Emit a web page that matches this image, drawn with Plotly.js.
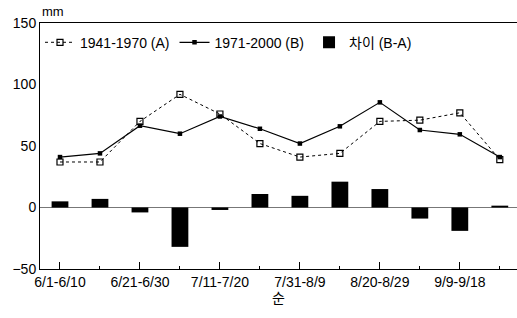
<!DOCTYPE html>
<html><head><meta charset="utf-8">
<script src="https://cdn.plot.ly/plotly-3.0.1.min.js"></script>
<style>html,body{margin:0;padding:0;background:#fff}</style>
</head><body>
<div id="chart" style="width:517px;height:318px"></div>
<script>
const categories = ["6/1-6/10","6/11-6/20","6/21-6/30","7/1-7/10","7/11-7/20","7/21-7/30","7/31-8/9","8/10-8/19","8/20-8/29","8/30-9/8","9/9-9/18","9/19-9/28"];
const seriesA = [37, 37, 70, 92, 76, 52, 41, 44, 70, 71, 77, 39];
const seriesB = [41, 44, 66.5, 60, 74, 64, 52, 66, 85.5, 63, 59.5, 41];
const diffBA = [5, 7, -4, -32, -2, 11, 9.5, 21, 15, -9, -19, 1.5];
const nameA = "1941-1970 (A)";
const nameB = "1971-2000 (B)";
const nameD = "차이 (B-A)";
const yTicks = [-50, 0, 50, 100, 150];

const idx = categories.map((_, i) => i);
const labeledIdx = idx.filter(i => i % 2 === 0);
const FONT = "Arial, 'Liberation Sans', 'Noto Sans CJK KR', sans-serif";

const traces = [
  {x: idx, y: seriesA, name: nameA, type: "scatter", mode: "lines+markers",
   line: {color: "#000", width: 1, dash: "dot"},
   marker: {symbol: "square-open", size: 6, color: "#000", line: {width: 1.2, color: "#000"}}},
  {x: idx, y: seriesB, name: nameB, type: "scatter", mode: "lines+markers",
   line: {color: "#000", width: 1.2},
   marker: {symbol: "square", size: 4.5, color: "#000"}},
  {x: idx, y: diffBA, name: nameD, type: "bar", width: 0.42,
   marker: {color: "#000"}}
];

const layout = {
  width: 517, height: 318,
  margin: {l: 40, r: 0, t: 23, b: 49},
  paper_bgcolor: "#fff", plot_bgcolor: "#fff",
  font: {family: FONT, size: 14, color: "#000"},
  showlegend: true,
  legend: {orientation: "h", x: 0, y: 0.985, xanchor: "left", yanchor: "top",
           font: {size: 14}, itemwidth: 30,
           bgcolor: "rgba(0,0,0,0)", traceorder: "normal", tracegroupgap: 0},
  xaxis: {
    range: [-0.5, 11.43],
    tickvals: labeledIdx,
    ticktext: labeledIdx.map(i => categories[i]),
    ticks: "inside", ticklen: 7, tickcolor: "#000", tickwidth: 1,
    minor: {tickvals: idx, ticks: "inside", ticklen: 3, tickcolor: "#000"},
    showline: true, linecolor: "#000", linewidth: 1, mirror: true,
    showgrid: false, zeroline: false,
    tickfont: {size: 14},
    title: {text: "순", font: {size: 14}, standoff: 2}
  },
  yaxis: {
    range: [-50, 150],
    tickvals: yTicks,
    ticks: "", showline: true, linecolor: "#000", linewidth: 1,
    showgrid: false, zeroline: true, zerolinecolor: "#777", zerolinewidth: 1,
    tickfont: {size: 14}
  },
  annotations: [
    {text: "mm", xref: "paper", yref: "paper", x: 0, y: 1, xanchor: "left", yanchor: "bottom",
     yshift: 2, showarrow: false, font: {size: 13}}
  ],
  bargap: 0.5
};

Plotly.newPlot("chart", traces, layout, {displayModeBar: false, staticPlot: true});
</script>
</body></html>
